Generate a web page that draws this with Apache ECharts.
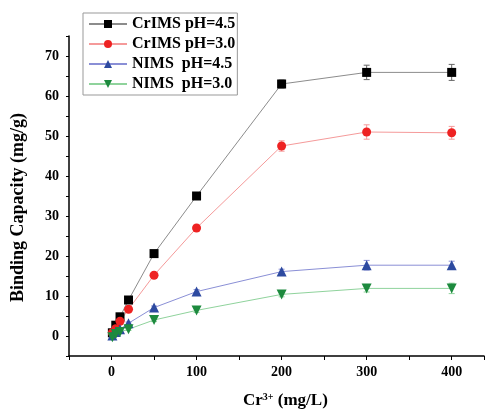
<!DOCTYPE html>
<html><head><meta charset="utf-8">
<script src="https://cdn.jsdelivr.net/npm/echarts@6/dist/echarts.min.js"></script>
<style>html,body{margin:0;padding:0;background:#fff}#c{width:487px;height:411px}</style>
</head><body><div id="c"></div>
<script>
const xVals = [1, 5, 10, 20, 50, 100, 200, 300, 400];
const seriesNames = ['CrIMS pH=4.5', 'CrIMS pH=3.0', 'NIMS  pH=4.5', 'NIMS  pH=3.0'];
const crims45 = [0.8, 2.7, 4.8, 9.0, 20.6, 35.0, 63.0, 65.9, 65.9];
const crims30 = [0.8, 1.8, 3.7, 6.7, 15.2, 27.0, 47.5, 51.0, 50.8];
const nims45 = [0.1, 1.0, 1.7, 3.2, 7.1, 11.1, 16.1, 17.7, 17.7];
const nims30 = [-0.3, 0.5, 1.0, 1.7, 4.0, 6.4, 10.4, 11.9, 11.9];
const err45 = [0.3, 0.3, 0.3, 0.4, 0.5, 0.8, 1.0, 1.8, 2.0];
const err30 = [0.3, 0.3, 0.3, 0.4, 0.5, 0.6, 1.3, 1.8, 1.6];
const errN45 = [0.3, 0.3, 0.3, 0.3, 0.4, 0.5, 0.6, 1.2, 1.0];
const errN30 = [0.3, 0.3, 0.3, 0.3, 0.4, 0.5, 0.6, 0.9, 1.3];
const xTickLabels = ['0', '100', '200', '300', '400'];
const yTickLabels = ['0', '10', '20', '30', '40', '50', '60', '70'];

const serif = '"Liberation Serif","Times New Roman",serif';
const defs = [
  {name: seriesNames[0], vals: crims45, err: err45, marker: '#000000', line: '#8c8c8c', sym: 'rect', size: 9},
  {name: seriesNames[1], vals: crims30, err: err30, marker: '#ee2222', line: '#f59a9a', sym: 'circle', size: 9},
  {name: seriesNames[2], vals: nims45, err: errN45, marker: '#2d4aa0', line: '#8a8fd6', sym: 'triangle', size: 10},
  {name: seriesNames[3], vals: nims30, err: errN30, marker: '#1d8a3e', line: '#8fd39c', sym: 'path://M0,0 L10,0 L5,9 Z', size: 10}
];

const series = [];
defs.forEach(d => {
  series.push({
    type: 'custom', name: d.name + ' err', silent: true, z: 3,
    data: xVals.map((x, i) => [x, d.vals[i] - d.err[i], d.vals[i] + d.err[i]]),
    encode: {x: 0, y: [1, 2]},
    renderItem: function (params, api) {
      const lo = api.coord([api.value(0), api.value(1)]);
      const hi = api.coord([api.value(0), api.value(2)]);
      const w = 3;
      const st = {stroke: d.line === '#8c8c8c' ? '#666' : d.line, lineWidth: 1};
      return {type: 'group', children: [
        {type: 'line', shape: {x1: lo[0], y1: lo[1], x2: hi[0], y2: hi[1]}, style: st},
        {type: 'line', shape: {x1: lo[0] - w, y1: lo[1], x2: lo[0] + w, y2: lo[1]}, style: st},
        {type: 'line', shape: {x1: hi[0] - w, y1: hi[1], x2: hi[0] + w, y2: hi[1]}, style: st}
      ]};
    }
  });
});
defs.forEach(d => {
  series.push({
    type: 'line', name: d.name, z: 5,
    data: xVals.map((x, i) => [x, d.vals[i]]),
    symbol: d.sym, symbolSize: d.size, showSymbol: true,
    itemStyle: {color: d.marker},
    lineStyle: {color: d.line, width: 1},
    emphasis: {disabled: true}
  });
});

const chart = echarts.init(document.getElementById('c'), null, {renderer: 'canvas'});
chart.setOption({
  animation: false,
  backgroundColor: '#fff',
  grid: {left: 69, top: 36, right: 0, bottom: 55, containLabel: false},
  legend: {
    data: seriesNames, orient: 'vertical', left: 83, top: 13,
    itemWidth: 38, itemHeight: 10, itemGap: 4,
    borderColor: '#999', borderWidth: 1, padding: [3, 2, 3, 5],
    textStyle: {fontFamily: serif, fontWeight: 'bold', fontSize: 16, color: '#000'}
  },
  xAxis: [{
    type: 'value', min: -50, max: 438, interval: 50,
    axisLine: {onZero: false, lineStyle: {color: '#000', width: 1.5}},
    axisTick: {inside: false, length: 4, lineStyle: {color: '#000', width: 1}},
    splitLine: {show: false},
    axisLabel: {
      fontFamily: serif, fontWeight: 'bold', fontSize: 14, color: '#000', margin: 9,
      formatter: v => xTickLabels.includes(String(v)) ? String(v) : ''
    }
  }],
  yAxis: [{
    type: 'value', min: -5, max: 75, interval: 5,
    axisLine: {onZero: false, lineStyle: {color: '#000', width: 1.5}},
    axisTick: {inside: false, length: 3, lineStyle: {color: '#000', width: 1}},
    splitLine: {show: false},
    axisLabel: {
      fontFamily: serif, fontWeight: 'bold', fontSize: 14, color: '#000', margin: 10,
      formatter: v => yTickLabels.includes(String(v)) ? String(v) : ''
    }
  }],
  graphic: [
    {type: 'text', x: 9, y: 302, rotation: Math.PI / 2,
     style: {text: 'Binding Capacity (mg/g)', fontFamily: serif, fontWeight: 'bold', fontSize: 18, fill: '#000'}},
    {type: 'text', left: 243, top: 392,
     style: {rich: {n: {fontFamily: serif, fontWeight: 'bold', fontSize: 17, fill: '#000'},
                    s: {fontFamily: serif, fontWeight: 'bold', fontSize: 10, fill: '#000', verticalAlign: 'top', padding: [0, 0, 8, 0]}},
             text: '{n|Cr}{s|3+}{n| (mg/L)}'}}
  ],
  series: series
});
</script></body></html>
